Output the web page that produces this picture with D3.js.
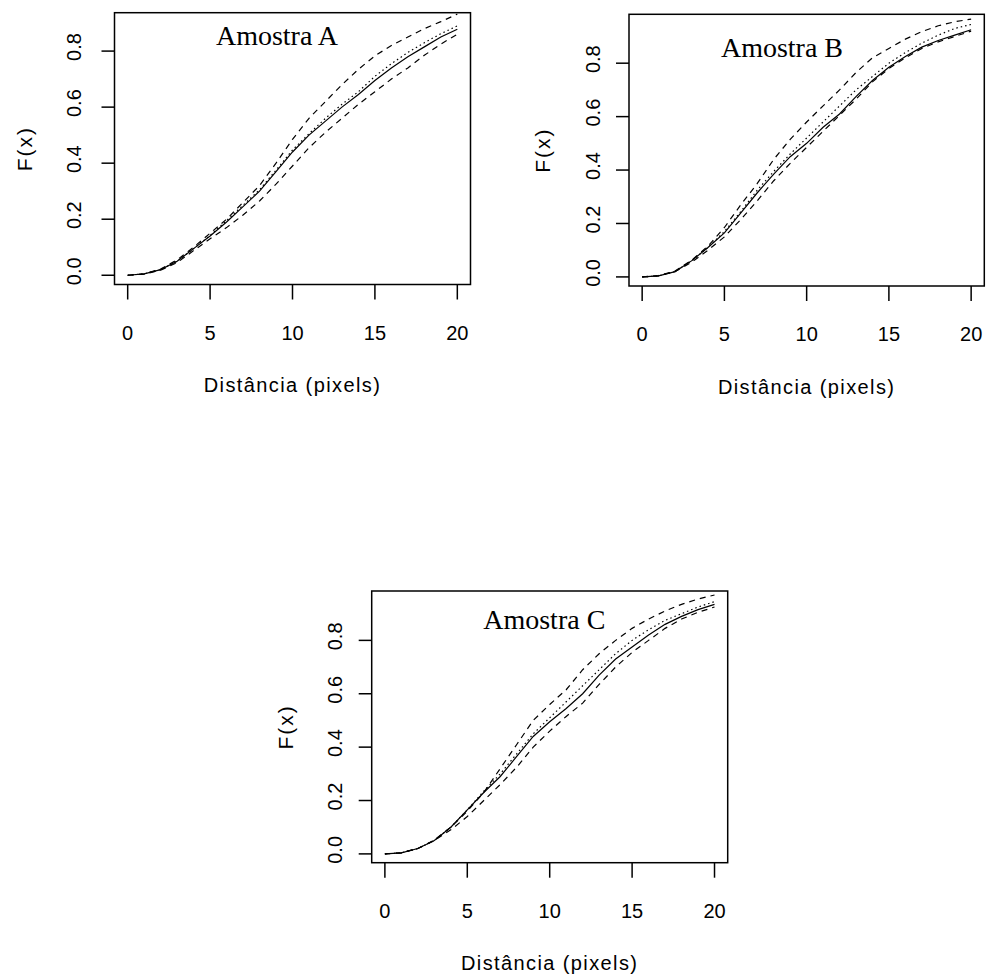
<!DOCTYPE html>
<html>
<head>
<meta charset="utf-8">
<script src="https://cdn.jsdelivr.net/npm/d3@7"></script>
<style>
  html, body { margin: 0; padding: 0; background: #fff; }
  svg { display: block; }
</style>
</head>
<body>
<script>
// ---------- data ----------
const distance = [0,1,2,3,4,5,6,7,8,9,10,11,12,13,14,15,16,17,18,19,20];

const A_observed = [0,0.005,0.02,0.05,0.095,0.14,0.19,0.245,0.30,0.37,0.44,0.50,0.55,0.60,0.645,0.695,0.74,0.78,0.815,0.85,0.878];
const A_mean     = [0,0.005,0.02,0.05,0.095,0.142,0.195,0.25,0.305,0.375,0.447,0.505,0.56,0.61,0.655,0.71,0.755,0.795,0.83,0.862,0.89];
const A_upper    = [0,0.005,0.022,0.055,0.1,0.15,0.2,0.26,0.32,0.40,0.485,0.56,0.62,0.68,0.735,0.783,0.82,0.85,0.88,0.905,0.932];
const A_lower    = [0,0.004,0.018,0.045,0.088,0.13,0.17,0.215,0.265,0.325,0.39,0.455,0.51,0.56,0.61,0.655,0.70,0.74,0.785,0.825,0.86];

const B_observed = [0,0.004,0.02,0.06,0.11,0.165,0.24,0.315,0.385,0.45,0.50,0.56,0.61,0.675,0.735,0.785,0.825,0.86,0.885,0.905,0.925];
const B_mean     = [0,0.004,0.02,0.06,0.11,0.17,0.245,0.325,0.395,0.46,0.52,0.58,0.64,0.70,0.75,0.80,0.84,0.875,0.905,0.93,0.945];
const B_upper    = [0,0.005,0.022,0.062,0.115,0.185,0.27,0.35,0.44,0.515,0.58,0.64,0.70,0.765,0.82,0.855,0.89,0.918,0.94,0.955,0.965];
const B_lower    = [0,0.004,0.02,0.055,0.10,0.15,0.215,0.285,0.36,0.425,0.485,0.545,0.605,0.665,0.73,0.78,0.82,0.855,0.88,0.90,0.92];

const C_observed = [0,0.004,0.02,0.05,0.10,0.165,0.23,0.29,0.365,0.44,0.495,0.545,0.60,0.67,0.73,0.775,0.82,0.86,0.89,0.915,0.935];
const C_mean     = [0,0.004,0.02,0.05,0.10,0.165,0.235,0.30,0.375,0.45,0.51,0.57,0.63,0.69,0.75,0.80,0.84,0.875,0.90,0.925,0.945];
const C_upper    = [0,0.004,0.02,0.052,0.10,0.16,0.23,0.32,0.41,0.50,0.56,0.615,0.69,0.75,0.80,0.845,0.88,0.91,0.935,0.955,0.97];
const C_lower    = [0,0.004,0.02,0.05,0.09,0.14,0.20,0.26,0.325,0.40,0.46,0.515,0.565,0.635,0.70,0.755,0.80,0.845,0.88,0.905,0.925];

const xTicks = [0,5,10,15,20];
const yTicks = [0,0.2,0.4,0.6,0.8];
const titles = ["Amostra A","Amostra B","Amostra C"];
const xLabel = "Distância (pixels)";
const yLabel = "F(x)";

// ---------- layout ----------
const panels = [
  { title: titles[0], obs: A_observed, mean: A_mean, up: A_upper, lo: A_lower,
    left: 114.5, top: 12.7, right: 470.5, bottom: 284.5, yDom: [-0.033, 0.937],
    tx: 9.06, ty: 0.857, yTickOff: 34, yLabOff: 82.6 },
  { title: titles[1], obs: B_observed, mean: B_mean, up: B_upper, lo: B_lower,
    left: 629, top: 14.3, right: 984.3, bottom: 286, yDom: [-0.034, 0.983],
    tx: 8.5, ty: 0.858, yTickOff: 29, yLabOff: 79 },
  { title: titles[2], obs: C_observed, mean: C_mean, up: C_upper, lo: C_lower,
    left: 371.7, top: 591, right: 727.7, bottom: 862.7, yDom: [-0.033, 0.985],
    tx: 9.67, ty: 0.879, yTickOff: 30, yLabOff: 78.4 }
];

const svg = d3.select("body").append("svg")
  .attr("width", 987).attr("height", 979);
svg.append("rect").attr("width", 987).attr("height", 979).attr("fill", "#fff");

const sans = "'Liberation Sans', Arial, sans-serif";
const serif = "'Liberation Serif', 'Times New Roman', serif";

panels.forEach(p => {
  const x = d3.scaleLinear().domain([-0.8, 20.8]).range([p.left, p.right]);
  const y = d3.scaleLinear().domain(p.yDom).range([p.bottom, p.top]);
  const g = svg.append("g");

  const line = arr => d3.line()
    .x((d, i) => x(distance[i]))
    .y(d => y(d))(arr);

  const series = [
    { d: p.up,   dash: "6,5" },
    { d: p.lo,   dash: "6,5" },
    { d: p.mean, dash: "1.5,3" },
    { d: p.obs,  dash: null }
  ];
  series.forEach(s => {
    g.append("path")
      .attr("d", line(s.d))
      .attr("fill", "none")
      .attr("stroke", "#000")
      .attr("stroke-width", 1.2)
      .attr("stroke-dasharray", s.dash);
  });

  // box
  g.append("rect")
    .attr("x", p.left).attr("y", p.top)
    .attr("width", p.right - p.left).attr("height", p.bottom - p.top)
    .attr("fill", "none").attr("stroke", "#000").attr("stroke-width", 1.5);

  // x axis ticks
  xTicks.forEach(t => {
    g.append("line")
      .attr("x1", x(t)).attr("x2", x(t))
      .attr("y1", p.bottom).attr("y2", p.bottom + 15)
      .attr("stroke", "#000").attr("stroke-width", 1.5);
    g.append("text")
      .attr("x", x(t)).attr("y", p.bottom + 55)
      .attr("text-anchor", "middle")
      .attr("font-family", sans).attr("font-size", 20)
      .attr("fill", "#000")
      .text(t);
  });
  // y axis ticks
  yTicks.forEach(t => {
    g.append("line")
      .attr("x1", p.left).attr("x2", p.left - 13)
      .attr("y1", y(t)).attr("y2", y(t))
      .attr("stroke", "#000").attr("stroke-width", 1.5);
    const lx = p.left - p.yTickOff, ly = y(t) - 4;
    g.append("text")
      .attr("transform", `translate(${lx},${ly}) rotate(-90)`)
      .attr("text-anchor", "middle")
      .attr("font-family", sans).attr("font-size", 20)
      .attr("fill", "#000")
      .text(d3.format(".1f")(t));
  });

  // axis labels
  g.append("text")
    .attr("x", (p.left + p.right) / 2).attr("y", p.bottom + 107.5)
    .attr("text-anchor", "middle")
    .attr("font-family", sans).attr("font-size", 20)
    .attr("letter-spacing", "1.4px")
    .attr("fill", "#000")
    .text(xLabel);
  g.append("text")
    .attr("transform", `translate(${p.left - p.yLabOff},${(p.top + p.bottom) / 2}) rotate(-90)`)
    .attr("text-anchor", "middle")
    .attr("font-family", sans).attr("font-size", 21)
    .attr("letter-spacing", "2px")
    .attr("fill", "#000")
    .text(yLabel);

  // panel title
  g.append("text")
    .attr("x", x(p.tx)).attr("y", y(p.ty))
    .attr("dy", "0.35em")
    .attr("text-anchor", "middle")
    .attr("font-family", serif).attr("font-size", 28)
    .attr("fill", "#000")
    .text(p.title);
});
</script>
</body>
</html>
